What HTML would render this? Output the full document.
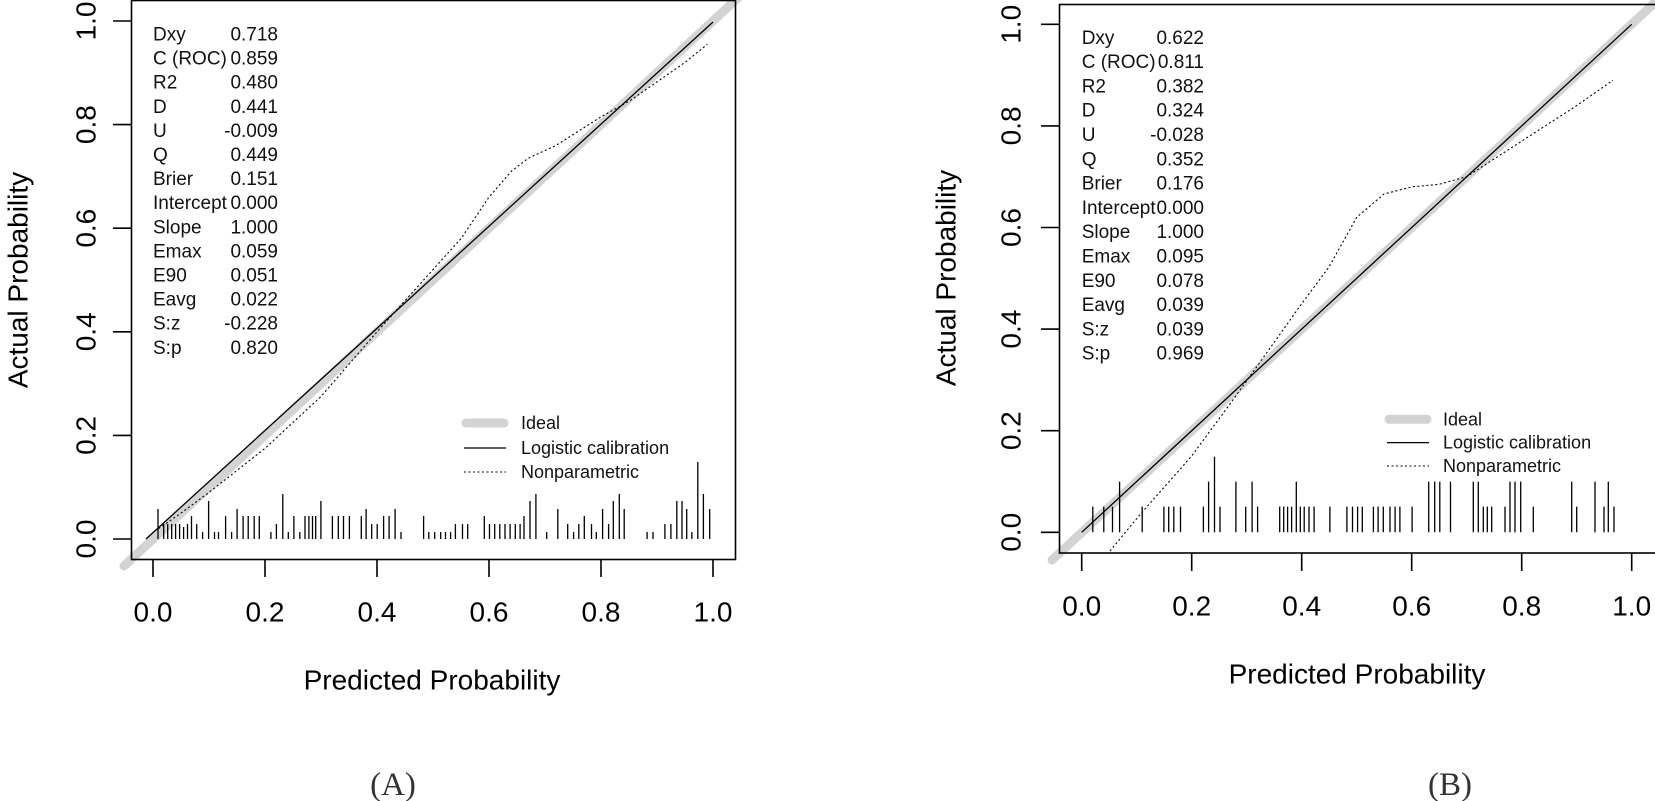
<!DOCTYPE html>
<html><head><meta charset="utf-8"><style>
html,body{margin:0;padding:0;background:#fff;}
svg{display:block;font-family:"Liberation Sans",Arial,sans-serif;}
</style></head><body>
<svg width="1655" height="801" viewBox="0 0 1655 801" xmlns="http://www.w3.org/2000/svg">
<!-- ============ PANEL A ============ -->
<g>
<line x1="124" y1="566" x2="742" y2="-6" stroke="#d3d3d3" stroke-width="9" stroke-linecap="round"/>
<rect x="131.5" y="0.5" width="604" height="559" fill="none" stroke="#000" stroke-width="1.6"/>
<polyline fill="none" stroke="#000" stroke-width="1.1" stroke-dasharray="2,2.5" points="158.6,528.6 181,513.1 209,492.4 265,448.4 321,396.5 377,331.8 405,300.7 433,269.6 461,238.6 489,197.1 511.4,171.2 528.2,158.3 556.2,145.3 601,116.8 629,101.3 651.4,85.8 685,62.4 707.4,44.3"/>
<line x1="146" y1="539" x2="713" y2="22" stroke="#000" stroke-width="1.3"/>
<path stroke="#000" stroke-width="1.3" fill="none" d="M158,539v-30M163.7,539v-15M167.7,539v-15M171.7,539v-15M175.6,539v-15M179.6,539v-15M183.6,539v-12M187.5,539v-15M191.5,539v-23M196.7,539v-15M202.6,539v-7M208.6,539v-38M214.5,539v-7M218.5,539v-7M225.6,539v-23M231.6,539v-7M237.1,539v-30M243.1,539v-23M248.2,539v-23M254.2,539v-23M259.3,539v-23M270.9,539v-7M276.4,539v-15M282.8,539v-45M288.3,539v-7M293.9,539v-23M299.8,539v-7M305,539v-23M308.9,539v-23M312.5,539v-23M315.7,539v-23M320.9,539v-38M332.4,539v-23M338.3,539v-23M343.5,539v-23M349.4,539v-23M361.3,539v-23M366.1,539v-30M371.7,539v-15M377.2,539v-15M383.6,539v-23M389.1,539v-23M395.1,539v-30M401,539v-7M423.6,539v-23M428.8,539v-7M434.7,539v-7M440.7,539v-7M445.5,539v-7M450.6,539v-7M455.4,539v-15M462.5,539v-15M467.7,539v-15M484.3,539v-23M489.5,539v-15M494.7,539v-15M499.8,539v-15M505,539v-15M510.1,539v-15M515.3,539v-15M520.1,539v-15M524,539v-23M530,539v-38M535.9,539v-45M546.7,539v-7M557.8,539v-30M567.7,539v-15M573.6,539v-7M578.8,539v-15M584.3,539v-23M591.5,539v-15M596.3,539v-7M602.6,539v-30M608.6,539v-15M613.3,539v-38M619.3,539v-45M624.2,539v-30M647.1,539v-7M653,539v-7M664.9,539v-15M670.9,539v-15M676.8,539v-38M682,539v-38M686.7,539v-30M691.9,539v-7M697.8,539v-77M703.4,539v-45M709.7,539v-30"/>
<path stroke="#000" stroke-width="1.6" d="M153,559v18M265,559v18M377,559v18M489,559v18M601,559v18M713,559v18M113,539h19M113,435.4h19M113,331.8h19M113,228.2h19M113,124.6h19M113,21h19"/>
<g font-size="28" text-anchor="middle" dominant-baseline="central" fill="#000">
<text x="153" y="612">0.0</text><text x="265" y="612">0.2</text><text x="377" y="612">0.4</text><text x="489" y="612">0.6</text><text x="601" y="612">0.8</text><text x="713" y="612">1.0</text>
<text transform="translate(86,539) rotate(-90)">0.0</text>
<text transform="translate(86,435.4) rotate(-90)">0.2</text>
<text transform="translate(86,331.8) rotate(-90)">0.4</text>
<text transform="translate(86,228.2) rotate(-90)">0.6</text>
<text transform="translate(86,124.6) rotate(-90)">0.8</text>
<text transform="translate(86,21) rotate(-90)">1.0</text>
</g>
<g font-size="28" text-anchor="middle" dominant-baseline="central">
<text x="432" y="680">Predicted Probability</text>
<text transform="translate(18,280) rotate(-90)">Actual Probability</text>
</g>
<g font-size="19" dominant-baseline="central" fill="#111">
<text x="153" y="35">Dxy</text><text x="153" y="59.1">C (ROC)</text><text x="153" y="83.2">R2</text><text x="153" y="107.3">D</text><text x="153" y="131.4">U</text><text x="153" y="155.5">Q</text><text x="153" y="179.6">Brier</text><text x="153" y="203.7">Intercept</text><text x="153" y="227.8">Slope</text><text x="153" y="251.9">Emax</text><text x="153" y="276">E90</text><text x="153" y="300.1">Eavg</text><text x="153" y="324.2">S:z</text><text x="153" y="348.3">S:p</text>
</g>
<g font-size="19" dominant-baseline="central" text-anchor="end" fill="#111">
<text x="278" y="35">0.718</text><text x="278" y="59.1">0.859</text><text x="278" y="83.2">0.480</text><text x="278" y="107.3">0.441</text><text x="278" y="131.4">-0.009</text><text x="278" y="155.5">0.449</text><text x="278" y="179.6">0.151</text><text x="278" y="203.7">0.000</text><text x="278" y="227.8">1.000</text><text x="278" y="251.9">0.059</text><text x="278" y="276">0.051</text><text x="278" y="300.1">0.022</text><text x="278" y="324.2">-0.228</text><text x="278" y="348.3">0.820</text>
</g>
<line x1="466" y1="423" x2="504" y2="423" stroke="#d3d3d3" stroke-width="9" stroke-linecap="round"/>
<line x1="464" y1="448" x2="506" y2="448" stroke="#000" stroke-width="1.3"/>
<line x1="464" y1="472" x2="506" y2="472" stroke="#000" stroke-width="1.1" stroke-dasharray="2,2.5"/>
<g font-size="18" dominant-baseline="central" fill="#111">
<text x="521" y="423">Ideal</text><text x="521" y="448">Logistic calibration</text><text x="521" y="472">Nonparametric</text>
</g>
<text x="393" y="785" font-family="'Liberation Serif',serif" font-size="33" text-anchor="middle" dominant-baseline="central" fill="#333">(A)</text>
</g>

<!-- ============ PANEL B ============ -->
<g>
<line x1="1052" y1="560" x2="1661" y2="-3" stroke="#d3d3d3" stroke-width="9" stroke-linecap="round"/>
<rect x="1059.5" y="4.5" width="600" height="548.5" fill="none" stroke="#000" stroke-width="1.6"/>
<polyline fill="none" stroke="#000" stroke-width="1.1" stroke-dasharray="2,2.5" points="1110,551 1142.2,512 1191.7,456 1230,404 1263,358 1301.7,303.7 1329,267 1356.7,217.3 1384,194 1411.7,186.9 1439,184.3 1466.7,176.7 1521.7,141.1 1576.7,105.6 1613,80.2"/>
<line x1="1081.7" y1="532.3" x2="1631.7" y2="24.3" stroke="#000" stroke-width="1.3"/>
<path stroke="#000" stroke-width="1.3" fill="none" d="M1092.8,532.3v-25.7M1103.8,532.3v-25.7M1112.5,532.3v-25.7M1119.6,532.3v-50.7M1142.2,532.3v-25.7M1163.9,532.3v-25.7M1168.7,532.3v-25.7M1173.8,532.3v-25.7M1180.5,532.3v-25.7M1203.4,532.3v-25.7M1208.6,532.3v-50.7M1214.5,532.3v-75.7M1220,532.3v-25.7M1235.9,532.3v-50.7M1245.7,532.3v-25.7M1252.1,532.3v-50.7M1257.6,532.3v-25.7M1279.7,532.3v-25.7M1283.7,532.3v-25.7M1287.6,532.3v-25.7M1291.6,532.3v-25.7M1296.3,532.3v-50.7M1300.3,532.3v-25.7M1304.2,532.3v-25.7M1309,532.3v-25.7M1314.1,532.3v-25.7M1329.9,532.3v-25.7M1346.9,532.3v-25.7M1352.5,532.3v-25.7M1357.6,532.3v-25.7M1362.3,532.3v-25.7M1373.4,532.3v-25.7M1378.1,532.3v-25.7M1383.3,532.3v-25.7M1390,532.3v-25.7M1395.1,532.3v-25.7M1399.9,532.3v-25.7M1412.1,532.3v-25.7M1428.7,532.3v-50.7M1434.7,532.3v-50.7M1439.8,532.3v-50.7M1450.5,532.3v-50.7M1473.3,532.3v-50.7M1478.3,532.3v-50.7M1483.3,532.3v-25.7M1487.3,532.3v-25.7M1491.7,532.3v-25.7M1505,532.3v-25.7M1510,532.3v-50.7M1515,532.3v-50.7M1520.7,532.3v-50.7M1533.3,532.3v-25.7M1571.7,532.3v-50.7M1576.7,532.3v-25.7M1595,532.3v-50.7M1604,532.3v-25.7M1608.3,532.3v-50.7M1614,532.3v-25.7"/>
<path stroke="#000" stroke-width="1.6" d="M1081.7,553v18M1191.7,553v18M1301.7,553v18M1411.7,553v18M1521.7,553v18M1631.7,553v18M1041,532.3h19M1041,430.7h19M1041,329.1h19M1041,227.5h19M1041,125.9h19M1041,24.3h19"/>
<g font-size="28" text-anchor="middle" dominant-baseline="central" fill="#000">
<text x="1081.7" y="606">0.0</text><text x="1191.7" y="606">0.2</text><text x="1301.7" y="606">0.4</text><text x="1411.7" y="606">0.6</text><text x="1521.7" y="606">0.8</text><text x="1631.7" y="606">1.0</text>
<text transform="translate(1011,532.3) rotate(-90)">0.0</text>
<text transform="translate(1011,430.7) rotate(-90)">0.2</text>
<text transform="translate(1011,329.1) rotate(-90)">0.4</text>
<text transform="translate(1011,227.5) rotate(-90)">0.6</text>
<text transform="translate(1011,125.9) rotate(-90)">0.8</text>
<text transform="translate(1011,24.3) rotate(-90)">1.0</text>
</g>
<g font-size="28" text-anchor="middle" dominant-baseline="central">
<text x="1357" y="674">Predicted Probability</text>
<text transform="translate(946,278) rotate(-90)">Actual Probability</text>
</g>
<g font-size="19" dominant-baseline="central" fill="#111">
<text x="1081.7" y="38.3">Dxy</text><text x="1081.7" y="62.6">C (ROC)</text><text x="1081.7" y="86.9">R2</text><text x="1081.7" y="111.2">D</text><text x="1081.7" y="135.5">U</text><text x="1081.7" y="159.8">Q</text><text x="1081.7" y="184.1">Brier</text><text x="1081.7" y="208.4">Intercept</text><text x="1081.7" y="232.7">Slope</text><text x="1081.7" y="257">Emax</text><text x="1081.7" y="281.3">E90</text><text x="1081.7" y="305.6">Eavg</text><text x="1081.7" y="329.9">S:z</text><text x="1081.7" y="354.2">S:p</text>
</g>
<g font-size="19" dominant-baseline="central" text-anchor="end" fill="#111">
<text x="1204" y="38.3">0.622</text><text x="1204" y="62.6">0.811</text><text x="1204" y="86.9">0.382</text><text x="1204" y="111.2">0.324</text><text x="1204" y="135.5">-0.028</text><text x="1204" y="159.8">0.352</text><text x="1204" y="184.1">0.176</text><text x="1204" y="208.4">0.000</text><text x="1204" y="232.7">1.000</text><text x="1204" y="257">0.095</text><text x="1204" y="281.3">0.078</text><text x="1204" y="305.6">0.039</text><text x="1204" y="329.9">0.039</text><text x="1204" y="354.2">0.969</text>
</g>
<line x1="1389" y1="419.3" x2="1427" y2="419.3" stroke="#d3d3d3" stroke-width="9" stroke-linecap="round"/>
<line x1="1387" y1="442.6" x2="1429" y2="442.6" stroke="#000" stroke-width="1.3"/>
<line x1="1387" y1="466" x2="1429" y2="466" stroke="#000" stroke-width="1.1" stroke-dasharray="2,2.5"/>
<g font-size="18" dominant-baseline="central" fill="#111">
<text x="1443" y="419.3">Ideal</text><text x="1443" y="442.6">Logistic calibration</text><text x="1443" y="466">Nonparametric</text>
</g>
<text x="1450" y="785" font-family="'Liberation Serif',serif" font-size="33" text-anchor="middle" dominant-baseline="central" fill="#333">(B)</text>
</g>
</svg>
</body></html>
